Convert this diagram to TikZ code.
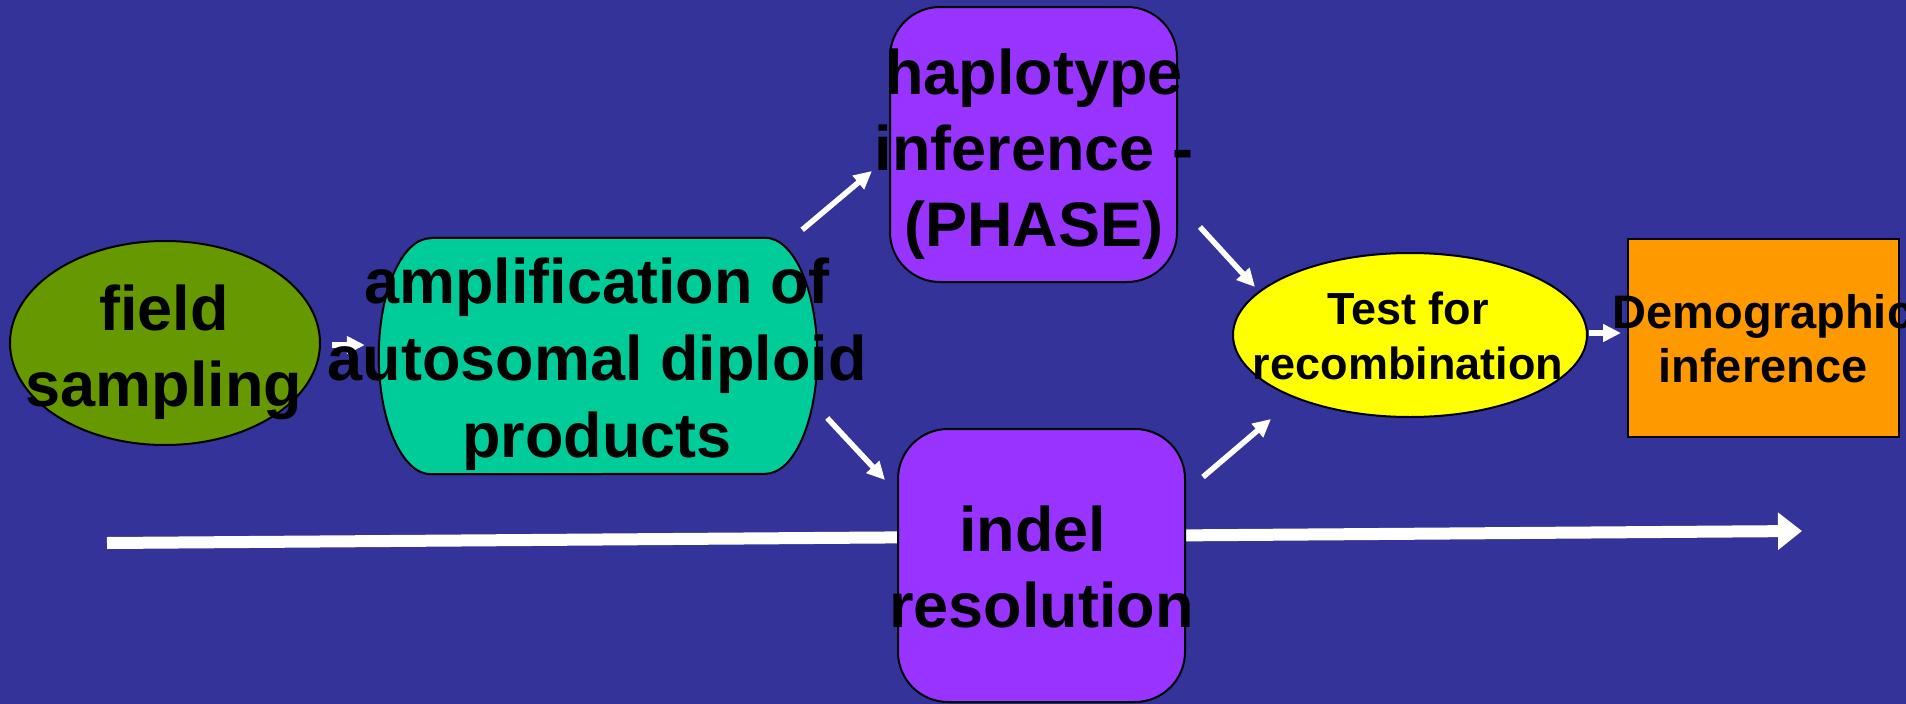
\documentclass[tikz,border=0pt]{standalone}
\usepackage{fontspec}
\setmainfont{Liberation Sans}
\usetikzlibrary{arrows.meta,shapes.geometric}
\definecolor{bgblue}{HTML}{333399}
\definecolor{fieldgreen}{HTML}{669900}
\definecolor{ampteal}{HTML}{00CC99}
\definecolor{boxpurple}{HTML}{9933FF}
\definecolor{testyellow}{HTML}{FFFF00}
\definecolor{demoorange}{HTML}{FF9900}
\begin{document}
\begin{tikzpicture}[x=1pt,y=-1pt,
  outline/.style={draw=black, line width=2pt},
  bigtext/.style={font=\bfseries\fontsize{63}{76}\selectfont, align=center, inner sep=0pt, text=black},
  amptext/.style={font=\bfseries\fontsize{63}{77}\selectfont, align=center, inner sep=0pt, text=black},
  testtext/.style={font=\bfseries\fontsize{45}{55}\selectfont, align=center, inner sep=0pt, text=black},
  demotext/.style={font=\bfseries\fontsize{47}{54}\selectfont, align=center, inner sep=0pt, text=black},
  arr/.style={draw=white, line width=5.5pt, -{Triangle[length=18pt,width=17pt]}},
  timeline/.style={draw=white, line width=12pt, -{Triangle[length=24pt,width=36pt]}},
  roundbox/.style={outline, fill=boxpurple, rounded corners=50pt, minimum width=287pt, inner sep=0pt}
]
\useasboundingbox (0,0) rectangle (1906,704);
\fill[bgblue] (0,0) rectangle (1906,704);

% timeline arrow (behind the boxes)
\coordinate (tlstart) at (107,543);
\coordinate (tlend) at (1802,531);
\draw[timeline] (tlstart) -- (tlend);

% shapes
\node[outline, fill=fieldgreen, ellipse, minimum width=310pt, minimum height=204pt, inner sep=0pt] (fs) at (165,343) {};
\node[draw=none, minimum width=438pt, minimum height=236pt, inner sep=0pt] (amp) at (598,356) {};
\filldraw[fill=ampteal, draw=black, line width=2pt]
  ([xshift=52pt]amp.north west) -- ([xshift=-52pt]amp.north east)
  arc[start angle=-90, end angle=90, x radius=52, y radius=118]
  -- ([xshift=52pt]amp.south west)
  arc[start angle=90, end angle=270, x radius=52, y radius=118] -- cycle;
\node[roundbox, minimum height=275pt] (hap) at (1033.5,144.5) {};
\node[roundbox, minimum height=273pt] (indel) at (1041.5,565.5) {};
\node[outline, fill=testyellow, ellipse, minimum width=354pt, minimum height=164pt, inner sep=0pt] (test) at (1410,335) {};
\node[outline, fill=demoorange, rectangle, minimum width=271pt, minimum height=198pt, inner sep=0pt] (demo) at (1763.5,338) {};

% connectors
\draw[arr] ([shift={(11,2)}]fs.east) -- ([shift={(-14,-11)}]amp.west);
\draw[arr] ([shift={(-15,-8)}]amp.north east) -- ([shift={(-17,26.5)}]hap.west);
\draw[arr] ([shift={(10,62)}]amp.east) -- ([shift={(-12,-85.5)}]indel.west);
\draw[arr] ([shift={(22,-56)}]hap.south east) -- ([shift={(23,-48)}]test.west);
\draw[arr] ([shift={(17,49)}]indel.north east) -- ([shift={(39,84)}]test.west);
\draw[arr] ([shift={(1,-2)}]test.east) -- ([shift={(-6,-5)}]demo.west);

% texts
\node[bigtext] (fstxt) at (164,352) {field\\sampling};
\node[amptext] (amptxt) at (597,364) {amplification of\\autosomal diploid\\products};
\node[bigtext] (haptxt) at (1034,154.5) {haplotype\\inference -\\(PHASE)};
\node[bigtext] (indeltxt) at (1041.5,567) {indel\kern0.28em\\resolution};
\node[testtext] (testtxt) at (1408,336) {Test for\\recombination};
\node[demotext] (demotxt) at (1763,339) {Demographic\\inference};
\end{tikzpicture}
\end{document}
